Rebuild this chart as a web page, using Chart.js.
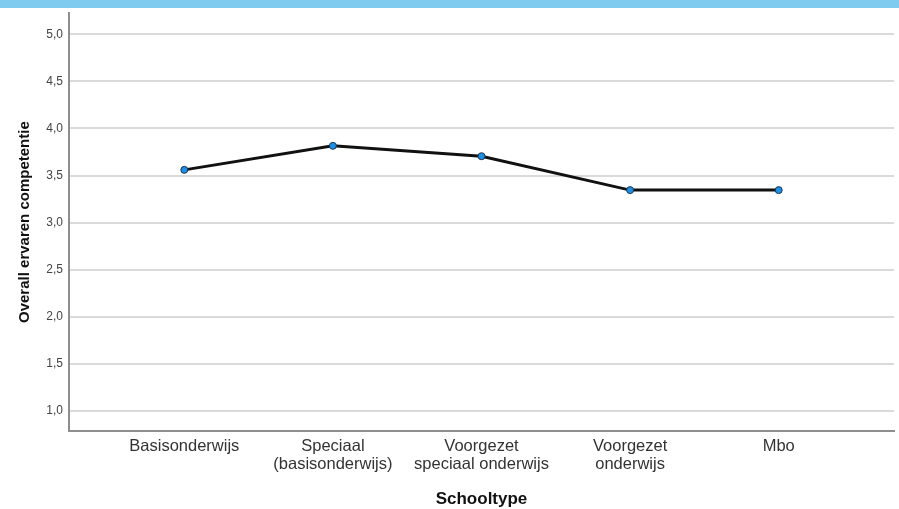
<!DOCTYPE html>
<html>
<head>
<meta charset="utf-8">
<script src="https://cdn.jsdelivr.net/npm/chart.js@4.4.0/dist/chart.umd.min.js"></script>
<style>
  html, body { margin: 0; padding: 0; background: #fff; }
  #wrap { position: relative; width: 899px; height: 509px; }
  #topbar { position: absolute; left: 0; top: 0; width: 899px; height: 8px; background: #7ecbef; }
</style>
</head>
<body>
<div id="wrap">
  <canvas id="chart" width="899" height="509"></canvas>
  <div id="topbar"></div>
</div>
<script>
// categories (one entry per x position, lines split for wrapping)
const categories = [
  ['Basisonderwijs'],
  ['Speciaal', '(basisonderwijs)'],
  ['Voorgezet', 'speciaal onderwijs'],
  ['Voorgezet', 'onderwijs'],
  ['Mbo']
];
// mean overall experienced competence per school type
const competentie = [3.56, 3.815, 3.705, 3.345, 3.345];
const yTicks = [1.0, 1.5, 2.0, 2.5, 3.0, 3.5, 4.0, 4.5, 5.0];

const points = competentie.map((v, i) => ({ x: i, y: v }));

const ctx = document.getElementById('chart').getContext('2d');
new Chart(ctx, {
  type: 'line',
  data: {
    datasets: [{
      data: points,
      borderColor: '#111',
      borderWidth: 3,
      tension: 0,
      pointRadius: 3.5,
      pointBackgroundColor: '#1e8fe6',
      pointBorderColor: '#1b3550',
      pointBorderWidth: 1
    }]
  },
  options: {
    responsive: false,
    animation: false,
    layout: { padding: { top: 13, right: 5, left: 0, bottom: 0 } },
    plugins: { legend: { display: false }, tooltip: { enabled: false } },
    scales: {
      x: {
        type: 'linear',
        min: -0.776,
        max: 4.776,
        afterBuildTicks: (axis) => { axis.ticks = categories.map((c, i) => ({ value: i })); },
        afterFit: (axis) => { axis.height = 78; },
        grid: { display: false, drawTicks: false },
        border: { display: true, color: '#8e8e8e', width: 2 },
        ticks: {
          autoSkip: false,
          maxRotation: 0,
          padding: 7,
          color: '#333',
          font: { family: 'Arial, "Liberation Sans"', size: 16.5, lineHeight: 1.05 },
          callback: (v) => categories[v]
        },
        title: {
          display: true,
          text: 'Schooltype',
          color: '#111',
          padding: { top: 0, bottom: -1 },
          font: { family: 'Arial, "Liberation Sans"', size: 17, weight: 'bold' }
        }
      },
      y: {
        min: 0.788,
        max: 5.223,
        afterBuildTicks: (axis) => { axis.ticks = yTicks.map(v => ({ value: v })); },
        afterFit: (axis) => { axis.width = 69; },
        grid: { color: '#dadada', lineWidth: 2, drawTicks: false },
        border: { display: true, color: '#8e8e8e', width: 2 },
        ticks: {
          padding: 6,
          color: '#444',
          font: { family: 'Arial, "Liberation Sans"', size: 12 },
          callback: (v) => v.toFixed(1).replace('.', ',')
        },
        title: {
          display: true,
          text: 'Overall ervaren competentie',
          color: '#111',
          padding: { top: 16, bottom: 0 },
          font: { family: 'Arial, "Liberation Sans"', size: 15, weight: 'bold' }
        }
      }
    }
  }
});
</script>
</body>
</html>
